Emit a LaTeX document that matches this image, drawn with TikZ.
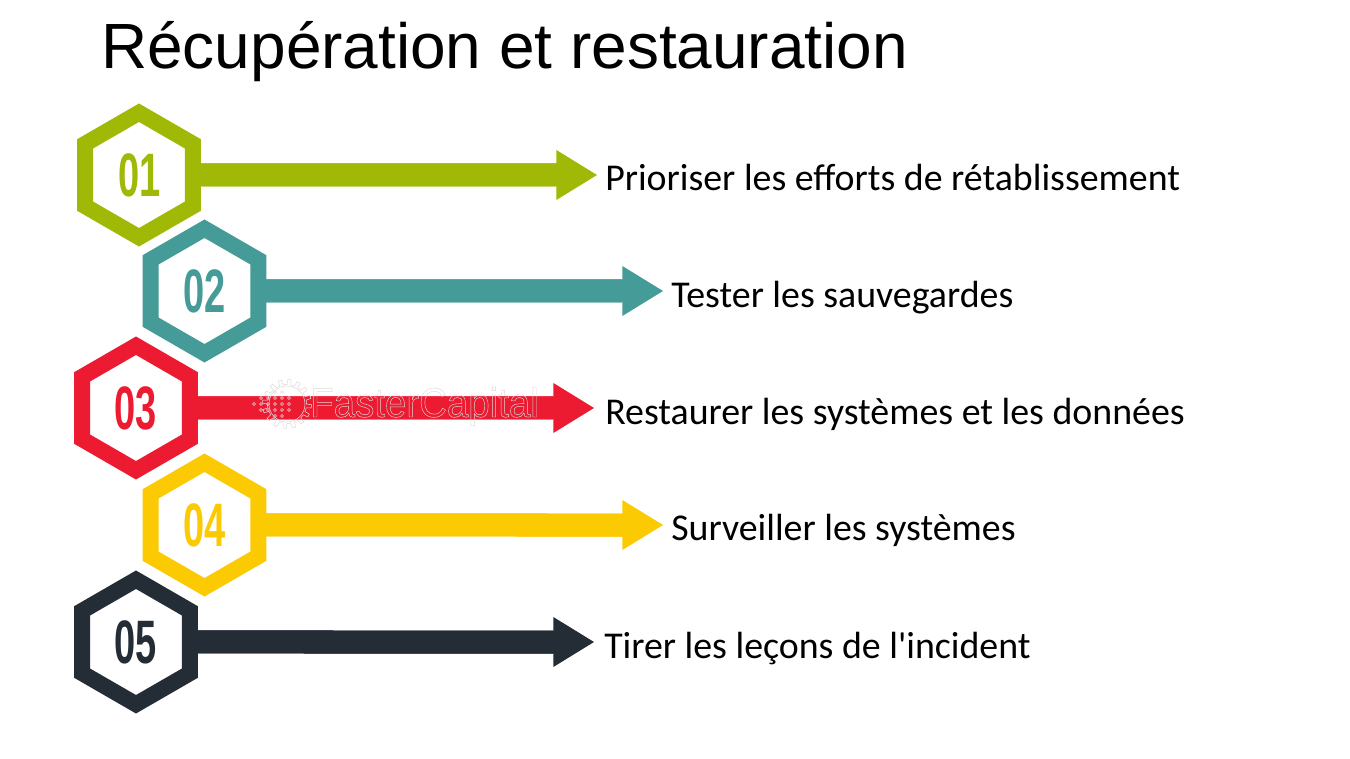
\documentclass[tikz,border=0pt]{standalone}
\usepackage{fontspec}
\usetikzlibrary{shapes.geometric,arrows.meta}
\setmainfont{Carlito}
\newfontfamily\plainfont{Carlito}
\newfontfamily\titlefont{Liberation Sans}
\newfontfamily\numfont{Liberation Sans}
\definecolor{cgreen}{HTML}{A0B806}
\definecolor{cteal}{HTML}{459B97}
\definecolor{cred}{HTML}{ED1B32}
\definecolor{cyellow}{HTML}{FCCA03}
\definecolor{cdark}{HTML}{242C36}
\definecolor{wmark}{HTML}{DCDCDC}
\tikzset{
  hexa/.style={regular polygon,regular polygon sides=6,regular polygon rotate=30,
    minimum size=93.4pt,inner sep=0pt,outer sep=0pt,line width=12pt,draw=#1,fill=white,
    text=#1,font=\numfont\bfseries\fontsize{46pt}{46pt}\selectfont,miter limit=10},
  bararrow/.style={draw=#1,line width=17.25pt,
    -{Triangle[length=30.5pt,width=37.5pt,line width=0pt,fill=#1]},
    postaction={draw=#1,line width=17.25pt,-,shorten >=27pt}},
  lab/.style={anchor=base west,inner sep=0pt,font=\plainfont\fontsize{28.4pt}{28pt}\selectfont,text=black},
  heading/.style={anchor=base west,inner sep=0pt,font=\titlefont\fontsize{47.95pt}{50pt}\selectfont,text=black},
  wm/.style={draw=wmark,line width=0.4pt,fill=none}
}
\newcommand{\num}[1]{\scalebox{0.62}[1]{#1}}
\begin{document}
\begin{tikzpicture}[x=0.75pt,y=-0.75pt]
\useasboundingbox[fill=white] (0,0) rectangle (1350,759);
\node[heading] (title) at (101,69) {Récupération et restauration};

\node[hexa=cgreen]  (h1) at (139,175) {\hspace{0.7pt}\num{01}};
\node[hexa=cteal]   (h2) at (204.5,291) {\num{02}};
\node[hexa=cred]    (h3) at (136,408) {\num{03}};
\node[hexa=cyellow] (h4) at (204.5,525) {\num{04}};
\node[hexa=cdark]   (h5) at (136,642) {\num{05}};

\coordinate (t1) at (597,175);
\coordinate (t2) at (663,291);
\coordinate (t3) at (594,408);
\coordinate (t4) at (663,525);
\coordinate (t5) at (594,642);

\draw[bararrow=cgreen]  (h1.east) -- (t1);
\draw[bararrow=cteal]   (h2.east) -- (t2);
\draw[bararrow=cred]    (h3.east) -- (t3);
\draw[bararrow=cyellow] (h4.east) -- (t4);
\draw[bararrow=cdark]   (h5.east) -- (t5);

\node[lab] (l1) at (605,191) {Prioriser les efforts de rétablissement};
\node[lab] (l2) at (671,308) {Tester les sauvegardes};
\node[lab] (l3) at (605,425) {Restaurer les systèmes et les données};
\node[lab] (l4) at (671,540) {Surveiller les systèmes};
\node[lab] (l5) at (604,658) {Tirer les leçons de l'incident};

% watermark
\begin{scope}[shift={(287,404)}]
  \draw[wm] plot[domain=0:360,samples=193] (\x:{22+2.5*(sin(16*\x)>0?1:-1)}) -- cycle;
  \draw[wm] (0,0) circle (18);
  \foreach \i/\m in {0/0,1/1,2/1,3/2,4/2,5/1}\foreach \j in {-\m,...,\m}
    \draw[wm] ({-33+\i*7},{\j*6}) circle (1.6);
\end{scope}
\node[anchor=base west,inner sep=0pt,font=\titlefont\fontsize{31pt}{31pt}\selectfont] (wmtext) at (310,417)
  {\scalebox{0.93}[1]{\special{pdf:code q 1 Tr 0.35 w 0.86 G}FasterCapital\special{pdf:code Q}}};
\end{tikzpicture}
\end{document}
